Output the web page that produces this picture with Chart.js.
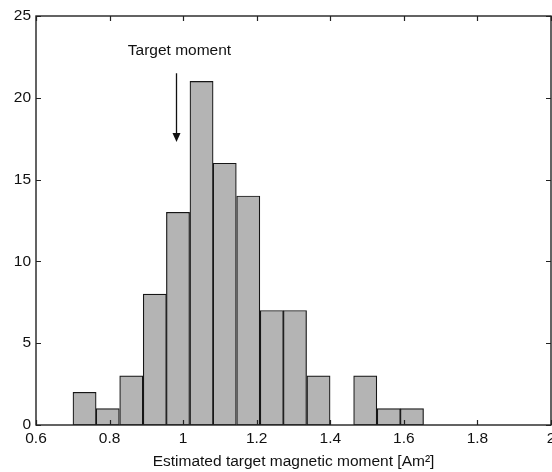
<!DOCTYPE html>
<html>
<head>
<meta charset="utf-8">
<script src="https://cdn.jsdelivr.net/npm/chart.js@4.4.1/dist/chart.umd.min.js"></script>
<style>
  html, body { margin: 0; padding: 0; background: #fff; }
  #wrap { width: 552px; height: 472px; }
</style>
</head>
<body>
<div id="wrap"><canvas id="histChart" width="552" height="472"></canvas></div>
<script>
// histogram bins (bin centres) and counts
const binCenters = [0.732, 0.795, 0.859, 0.923, 0.986, 1.050, 1.113, 1.177, 1.241, 1.304, 1.368, 1.431, 1.495, 1.559, 1.622];
const counts     = [2, 1, 3, 8, 13, 21, 16, 14, 7, 7, 3, 0, 3, 1, 1];

const xTickLabels = ['0.6', '0.8', '1', '1.2', '1.4', '1.6', '1.8', '2'];
const yTickLabels = ['0', '5', '10', '15', '20', '25'];

// "Target moment" annotation, in data units
const targetLabel = 'Target moment';
const targetLabelPos = { x: 0.99, y: 22.9 };
const targetArrow = { x: 0.98, yTop: 21.5, yTip: 17.3 };

const FONT = '"Liberation Sans", Arial, Helvetica, sans-serif';
const FONT_SIZE = 15.5;

// draws the matlab-style box with inward ticks + the arrow annotation
const frameAndNotes = {
    id: 'frameAndNotes',
    afterDatasetsDraw(chart) {
        const { ctx, chartArea: a, scales: { x, y } } = chart;
        const tick = 5;
        ctx.save();
        ctx.strokeStyle = '#222';
        ctx.lineWidth = 1.4;
        ctx.strokeRect(a.left, a.top, a.right - a.left, a.bottom - a.top);

        ctx.lineWidth = 1.2;
        ctx.beginPath();
        x.ticks.forEach(t => {
            const px = Math.round(x.getPixelForValue(t.value)) + 0.5;
            ctx.moveTo(px, a.bottom); ctx.lineTo(px, a.bottom - tick);
            ctx.moveTo(px, a.top); ctx.lineTo(px, a.top + tick);
        });
        y.ticks.forEach(t => {
            const py = Math.round(y.getPixelForValue(t.value)) + 0.5;
            ctx.moveTo(a.left, py); ctx.lineTo(a.left + tick, py);
            ctx.moveTo(a.right, py); ctx.lineTo(a.right - tick, py);
        });
        ctx.stroke();

        // annotation
        ctx.fillStyle = '#111';
        ctx.font = FONT_SIZE + 'px ' + FONT;
        ctx.textAlign = 'center';
        ctx.textBaseline = 'middle';
        ctx.fillText(targetLabel, x.getPixelForValue(targetLabelPos.x), y.getPixelForValue(targetLabelPos.y));

        const ax = Math.round(x.getPixelForValue(targetArrow.x)) + 0.5;
        const top = y.getPixelForValue(targetArrow.yTop);
        const tip = y.getPixelForValue(targetArrow.yTip);
        ctx.strokeStyle = '#111';
        ctx.lineWidth = 1.3;
        ctx.beginPath();
        ctx.moveTo(ax, top);
        ctx.lineTo(ax, tip - 6);
        ctx.stroke();
        ctx.beginPath();
        ctx.moveTo(ax - 4, tip - 9);
        ctx.lineTo(ax + 4, tip - 9);
        ctx.lineTo(ax, tip);
        ctx.closePath();
        ctx.fill();
        ctx.restore();
    }
};

const ctx = document.getElementById('histChart').getContext('2d');
new Chart(ctx, {
    type: 'bar',
    data: {
        datasets: [{
            data: binCenters.map((c, i) => ({ x: c, y: counts[i] })),
            backgroundColor: '#b4b4b4',
            borderColor: '#161616',
            borderWidth: 1.2,
            borderSkipped: false,
            barPercentage: 1,
            categoryPercentage: 1
        }]
    },
    options: {
        responsive: false,
        animation: false,
        devicePixelRatio: 1,
        layout: { padding: { top: 16, right: 1, left: 0, bottom: 0 } },
        plugins: {
            legend: { display: false },
            tooltip: { enabled: false }
        },
        scales: {
            x: {
                type: 'linear',
                offset: false,
                min: 0.6,
                max: 2,
                grid: { display: false, drawTicks: false },
                border: { display: false },
                ticks: {
                    stepSize: 0.2,
                    padding: 4,
                    maxRotation: 0,
                    autoSkip: false,
                    color: '#111',
                    font: { family: FONT, size: FONT_SIZE },
                    callback: (v, i) => xTickLabels[i]
                },
                title: {
                    display: true,
                    text: 'Estimated target magnetic moment [Am\u00B2]',
                    color: '#111',
                    font: { family: FONT, size: FONT_SIZE },
                    padding: { top: 0, bottom: 1 }
                },
                afterFit(scale) {
                    scale.height = 47;
                    scale.paddingLeft = 0;
                    scale.paddingRight = 0;
                }
            },
            y: {
                min: 0,
                max: 25,
                grid: { display: false, drawTicks: false },
                border: { display: false },
                ticks: {
                    stepSize: 5,
                    padding: 5,
                    color: '#111',
                    font: { family: FONT, size: FONT_SIZE },
                    callback: (v, i) => yTickLabels[i]
                },
                afterFit(scale) {
                    scale.width = 36;
                    scale.paddingTop = 0;
                    scale.paddingBottom = 0;
                }
            }
        }
    },
    plugins: [frameAndNotes]
});
</script>
</body>
</html>
